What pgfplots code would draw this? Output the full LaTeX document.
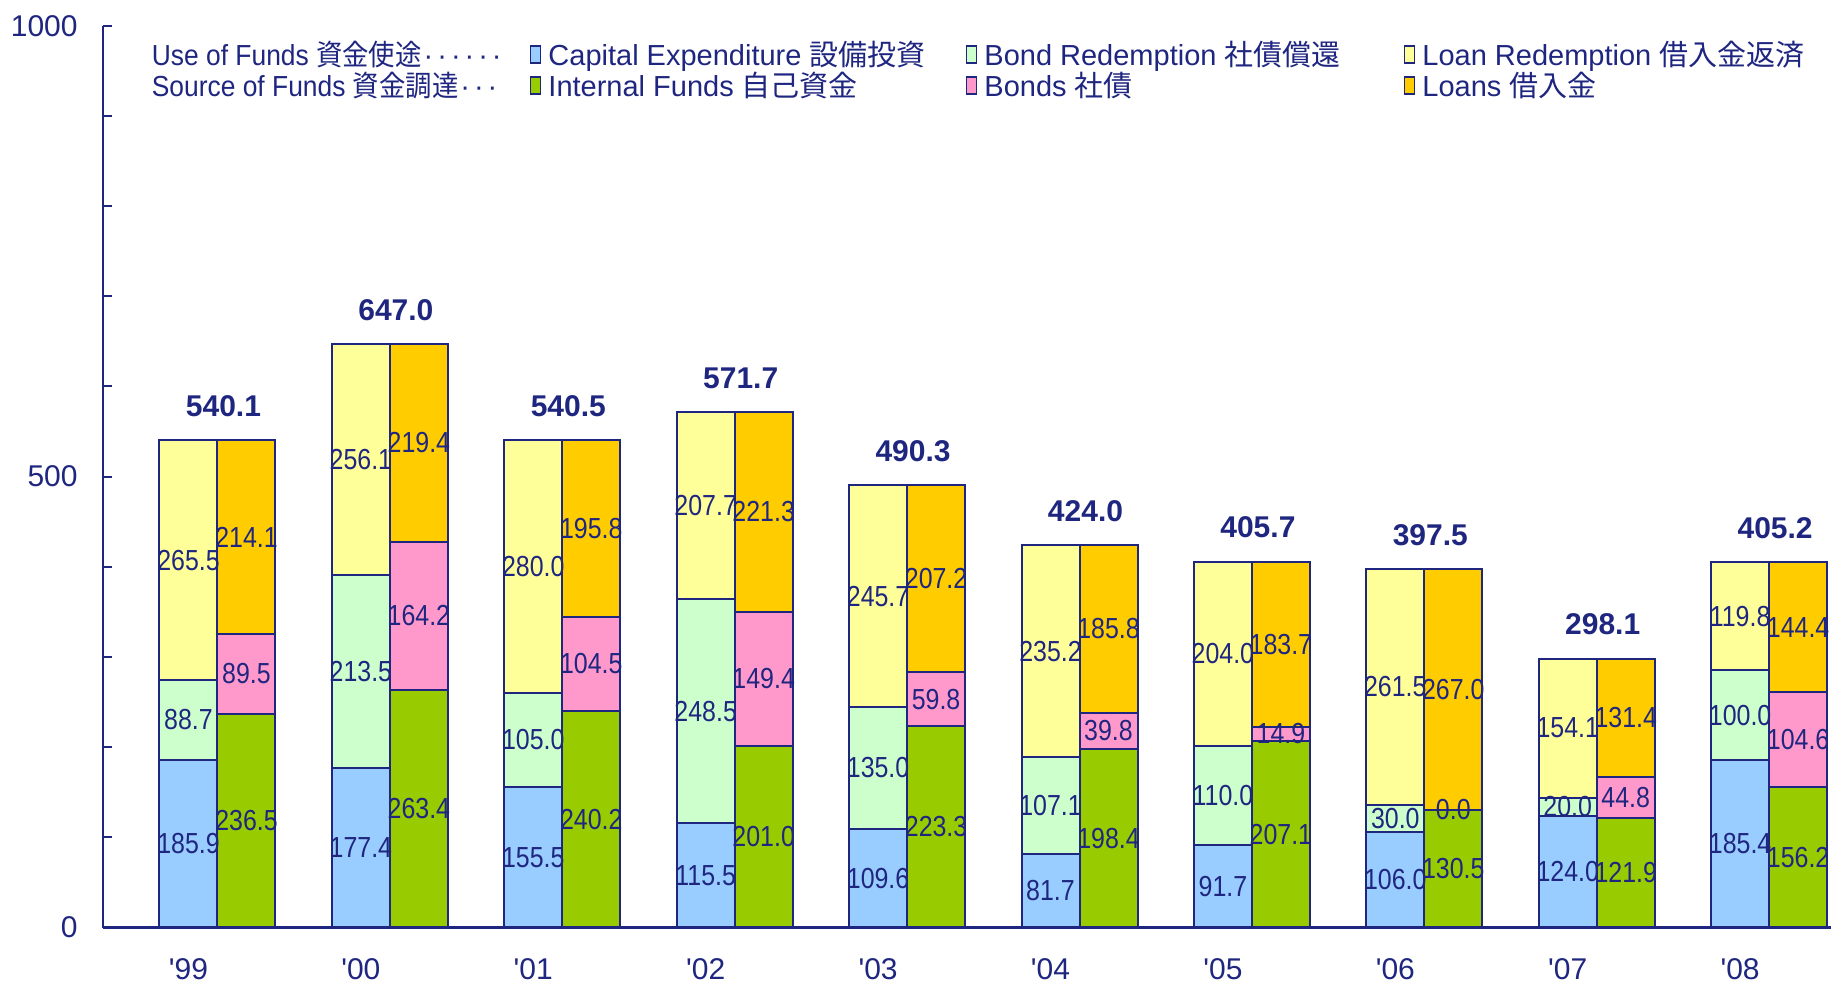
\documentclass[border=0pt]{standalone}
\usepackage{graphicx}
\usepackage{pgfplots}
\pgfplotsset{compat=1.18}
\usepackage{pgfplotstable}
\usepackage{fontspec}
\setmainfont{Liberation Sans}
\newfontfamily\lsans{Liberation Sans}
\newfontfamily\narrow{Liberation Sans}[FakeStretch=0.86]
\newfontfamily\cjk{Noto Sans CJK JP}

\definecolor{navy}{RGB}{31,38,128}
\definecolor{capex}{HTML}{99CCFF}
\definecolor{bondred}{HTML}{CCFFCC}
\definecolor{loanred}{HTML}{FFFF99}
\definecolor{internal}{HTML}{99CC00}
\definecolor{bonds}{HTML}{FF99CC}
\definecolor{loans}{HTML}{FFCC00}

\newcommand\valfont{\narrow\fontsize{14.5}{16}\selectfont}
\newcommand\tickfont{\lsans\fontsize{15}{17}\selectfont}
\newcommand\totfont{\lsans\bfseries\fontsize{15}{17}\selectfont}
\newcommand\legfont{\lsans\fontsize{14.5}{17}\selectfont}
\newcommand\ldot{\kern1pt·\kern1pt}

% use of funds
\pgfplotstableread{
x capex bondred loanred total
0 185.9 88.7 265.5 540.1
1 177.4 213.5 256.1 647.0
2 155.5 105.0 280.0 540.5
3 115.5 248.5 207.7 571.7
4 109.6 135.0 245.7 490.3
5 81.7 107.1 235.2 424.0
6 91.7 110.0 204.0 405.7
7 106.0 30.0 261.5 397.5
8 124.0 20.0 154.1 298.1
9 185.4 100.0 119.8 405.2
}\usetable

% source of funds
\pgfplotstableread{
x internal bonds loans total
0 236.5 89.5 214.1 540.1
1 263.4 164.2 219.4 647.0
2 240.2 104.5 195.8 540.5
3 201.0 149.4 221.3 571.7
4 223.3 59.8 207.2 490.3
5 198.4 39.8 185.8 424.0
6 207.1 14.9 183.7 405.7
7 130.5 0.0 267.0 397.5
8 121.9 44.8 131.4 298.1
9 156.2 104.6 144.4 405.2
}\srctable

\pgfplotsset{
  base/.style={scale only axis, width=864pt, height=450.9pt,
    xmin=-0.664, xmax=9.359, ymin=0, ymax=1000, clip=false,
    at={(0pt,0pt)}, anchor=south west},
  stk/.style={base, hide axis, ybar stacked, bar width=29pt, bar shift=#1,
    stacked ignores zero=false},
}

\newcommand\seg[3]{\addplot[fill=#1, draw=navy, line width=1pt] table[x=x,y=#2]{#3};}
% label at the middle of a segment: #1 = middle of segment, #2 = value column, #3 = table, #4 = shift
\newcommand\lab[4]{\addplot[only marks, mark=none, point meta=explicit,
    nodes near coords={\pgfmathprintnumber[fixed,fixed zerofill,precision=1,assume math mode=true]{\pgfplotspointmeta}},
    every node near coord/.append style={anchor=center, inner sep=0pt, font=\valfont, text=navy, xshift=#4},
  ] table[x=x, y expr={#1}, meta=#2]{#3};}

\begin{document}
\begin{tikzpicture}
\useasboundingbox (-51.5pt,-28.25pt) rectangle (865.5pt,463.75pt);

% bars
\begin{axis}[stk=-14.5pt]
\seg{capex}{capex}{\usetable}
\seg{bondred}{bondred}{\usetable}
\seg{loanred}{loanred}{\usetable}
\end{axis}
\begin{axis}[stk=14.5pt]
\seg{internal}{internal}{\srctable}
\seg{bonds}{bonds}{\srctable}
\seg{loans}{loans}{\srctable}
\end{axis}

% value labels on top of all bars
\begin{axis}[base, hide axis]
\lab{\thisrow{capex}/2}{capex}{\usetable}{-14.5pt}
\lab{\thisrow{capex}+\thisrow{bondred}/2}{bondred}{\usetable}{-14.5pt}
\lab{\thisrow{capex}+\thisrow{bondred}+\thisrow{loanred}/2}{loanred}{\usetable}{-14.5pt}
\lab{\thisrow{internal}/2}{internal}{\srctable}{14.5pt}
\lab{\thisrow{internal}+\thisrow{bonds}/2}{bonds}{\srctable}{14.5pt}
\lab{\thisrow{internal}+\thisrow{bonds}+\thisrow{loans}/2}{loans}{\srctable}{14.5pt}
\end{axis}

% frame, ticks, totals, legend
\begin{axis}[base,
    axis x line=bottom, axis y line=left,
    axis line style={-, draw=navy, line width=1.3pt},
    xtick={0,...,9},
    xticklabels={'99,'00,'01,'02,'03,'04,'05,'06,'07,'08},
    major x tick style={draw=none},
    xticklabel style={font=\tickfont, text=navy, anchor=center, inner sep=0pt, xshift=-14.5pt, yshift=-21pt},
    ytick={0,500,1000}, yticklabels={0,500,1000},
    minor ytick={100,200,300,400,600,700,800,900},
    yticklabel style={font=\tickfont, text=navy, anchor=east, inner sep=0pt, xshift=-12.5pt},
    tick align=inside, major tick length=4.5pt, minor tick length=4.5pt,
    y tick style={draw=navy, line width=1pt},
    legend columns=4,
    legend cell align=left,
    legend style={at={(0.024,0.986)}, anchor=north west, draw=none, fill=none,
      font=\legfont, text=navy, inner sep=0pt, row sep=0pt,
      column sep=2.5pt, nodes={inner sep=1pt},
      /tikz/every even column/.append style={column sep=16pt}},
    legend image code/.code={\draw[#1, draw=navy, line width=0.9pt] (0pt,-4.25pt) rectangle (5pt,4.25pt);},
]
\addplot[forget plot, only marks, mark=none, point meta=explicit,
    nodes near coords={\pgfmathprintnumber[fixed,fixed zerofill,precision=1,assume math mode=true]{\pgfplotspointmeta}},
    every node near coord/.append style={anchor=center, inner sep=0pt, font=\totfont, text=navy,
      xshift=3pt, yshift=17pt}]
  table[x=x, y=total, meta=total]{\usetable};

\addlegendimage{empty legend}
\addlegendentry{\scalebox{0.91}[1]{Use of Funds {\cjk 資金使途}}\ldot\ldot\ldot\ldot\ldot\ldot\kern-4pt}
\addlegendimage{fill=capex}
\addlegendentry{Capital Expenditure {\cjk 設備投資}\kern3pt}
\addlegendimage{fill=bondred}
\addlegendentry{Bond Redemption {\cjk 社債償還}\kern14.5pt}
\addlegendimage{fill=loanred}
\addlegendentry{Loan Redemption {\cjk 借入金返済}}
\addlegendimage{empty legend}
\addlegendentry{\scalebox{0.91}[1]{Source of Funds {\cjk 資金調達}}\ldot\ldot\ldot\kern-4pt}
\addlegendimage{fill=internal}
\addlegendentry{Internal Funds {\cjk 自己資金}}
\addlegendimage{fill=bonds}
\addlegendentry{Bonds {\cjk 社債}}
\addlegendimage{fill=loans}
\addlegendentry{Loans {\cjk 借入金}}
\end{axis}
\end{tikzpicture}
\end{document}
